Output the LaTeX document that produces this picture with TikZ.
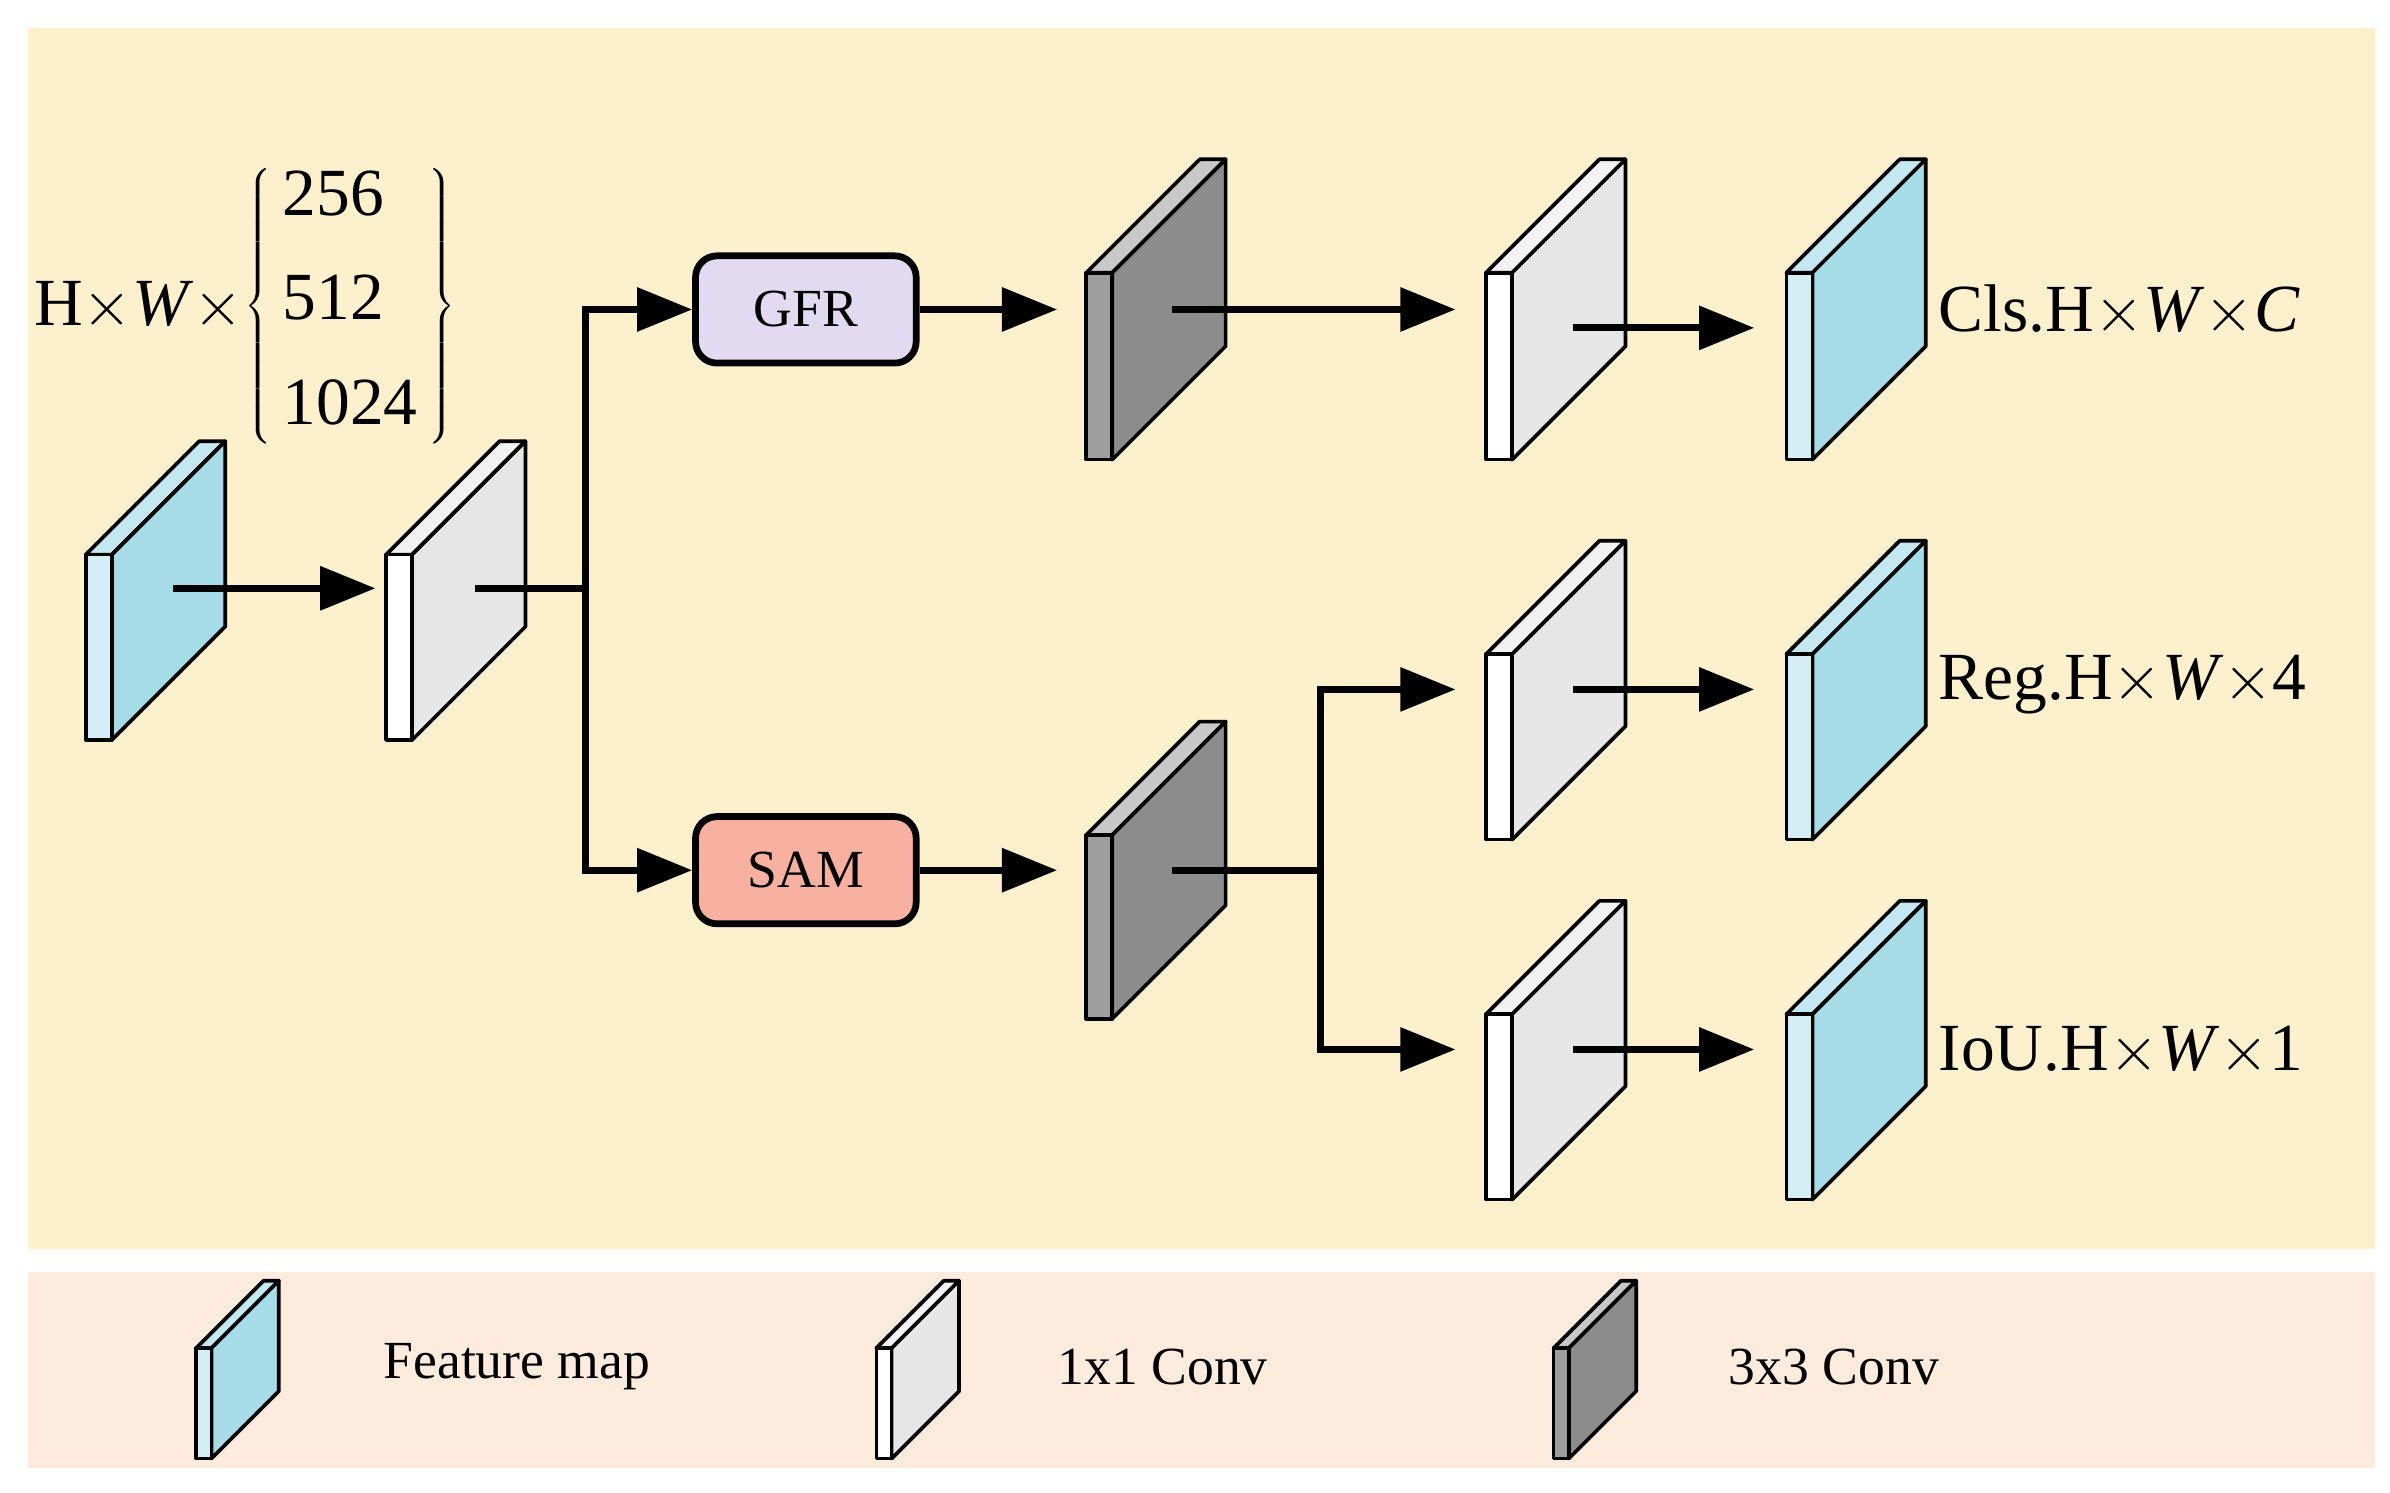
\documentclass[tikz,border=0pt]{standalone}
\usepackage{fontspec}
\setmainfont{Liberation Serif}
\usetikzlibrary{arrows.meta}
\definecolor{bgtop}{HTML}{FDF0CC}
\definecolor{bgbot}{HTML}{FDEBDD}
\definecolor{bluS}{HTML}{A6DCE8}\definecolor{bluF}{HTML}{D4EEF5}\definecolor{bluT}{HTML}{C4E8F1}
\definecolor{whS}{HTML}{E6E6E6}\definecolor{whF}{HTML}{FFFFFF}\definecolor{whT}{HTML}{F2F2F2}
\definecolor{dkS}{HTML}{8C8C8C}\definecolor{dkF}{HTML}{9E9E9E}\definecolor{dkT}{HTML}{C8C8C8}
\definecolor{gfr}{HTML}{E2DAF0}\definecolor{sam}{HTML}{F8B0A0}
\tikzset{
 face/.style={draw=black,line width=1.2pt,line join=round},
 arr/.style={line width=2.2pt,-{Triangle[length=18pt,width=14pt]}},
 ln/.style={line width=2.2pt},
 mod/.style={draw=black,line width=2.2pt,rounded corners=7pt,minimum width=72pt,minimum height=35pt,font=\fontsize{17.5}{17.5}\selectfont},
 lab/.style={anchor=west,font=\fontsize{22}{22}\selectfont,inner sep=0pt},
 leg/.style={anchor=west,font=\fontsize{17.5}{17.5}\selectfont,inner sep=0pt}
}
\newcommand\fmap[6]{%
 \fill[#6T,face] (#1,#2) -- ++(#5,0) -- ++(#4,-#4) -- ++(-#5,0) -- cycle;
 \fill[#6S,face] (#1+#5,#2) -- ++(#4,-#4) -- ++(0,#3) -- ++(-#4,#4) -- cycle;
 \fill[#6F,face] (#1,#2) rectangle ++(#5,#3);
}
\begin{document}
\begin{tikzpicture}[x=0.5pt,y=-0.5pt]
\useasboundingbox (0,0) rectangle (1560,974);
\fill[white] (0,0) rectangle (1560,974);
\fill[bgtop] (18,18) rectangle (1550,815);
\fill[bgbot] (18,830) rectangle (1550,958);
\fmap{56}{362}{121}{74}{17}{blu}
\fmap{252}{362}{121}{74}{17}{wh}
\fmap{709}{178}{122}{74}{17}{dk}
\fmap{970}{178}{122}{74}{17}{wh}
\fmap{1166}{178}{122}{74}{17}{blu}
\fmap{709}{545}{120}{74}{17}{dk}
\fmap{970}{427}{121}{74}{17}{wh}
\fmap{1166}{427}{121}{74}{17}{blu}
\fmap{970}{662}{121}{74}{17}{wh}
\fmap{1166}{662}{121}{74}{17}{blu}
\fmap{128}{880}{72}{44}{10}{blu}
\fmap{572}{880}{72}{44}{10}{wh}
\fmap{1014}{880}{72}{44}{10}{dk}
\node[mod,fill=gfr] (gfr) at (526,202) {GFR};
\node[mod,fill=sam] (sam) at (526,568) {SAM};
\coordinate (a0) at (113,384); \coordinate (a1) at (245,384);
\coordinate (b0) at (310,384); \coordinate (j) at (382,384);
\coordinate (g0) at (690,202); \coordinate (s0) at (690,568);
\coordinate (c0) at (765,202); \coordinate (c1) at (950,202);
\coordinate (d0) at (1027,214); \coordinate (d1) at (1145,214);
\coordinate (e0) at (765,568); \coordinate (e1) at (862,568);
\coordinate (r1) at (950,450); \coordinate (i1) at (950,685);
\coordinate (f0) at (1027,450); \coordinate (f1) at (1145,450);
\coordinate (h0) at (1027,685); \coordinate (h1) at (1145,685);
\draw[arr] (a0) -- (a1);
\draw[ln] (b0) -- (j);
\draw[arr] (j) |- (gfr.west);
\draw[arr] (j) |- (sam.west);
\draw[arr] (gfr.east) -- (g0);
\draw[arr] (sam.east) -- (s0);
\draw[arr] (c0) -- (c1);
\draw[arr] (d0) -- (d1);
\draw[ln] (e0) -- (e1);
\draw[arr] (e1) |- (r1);
\draw[arr] (e1) |- (i1);
\draw[arr] (f0) -- (f1);
\draw[arr] (h0) -- (h1);
\node[lab] (cls) at (1265,203) {Cls.H$\times$\textit{W}$\times$\textit{C}};
\node[lab] (reg) at (1265,447) {Reg.H$\times$\textit{W}$\times$4};
\node[lab] (iou) at (1265,686) {IoU.H$\times$\textit{W}$\times$1};
\node[lab] (hw) at (22,200) {H$\times$\textit{W}$\times$};
\node[anchor=west,inner sep=0pt,font=\fontsize{22}{22}\selectfont] (nums) at (hw.east) {$\left\{\begin{tabular}{@{\,}l@{\,}}256\\[12pt]512\\[12pt]1024\end{tabular}\right\}$};
\node[leg] (l1) at (250,892) {Feature map};
\node[leg] (l2) at (690,892) {1x1 Conv};
\node[leg] (l3) at (1128,892) {3x3 Conv};
\end{tikzpicture}
\end{document}
